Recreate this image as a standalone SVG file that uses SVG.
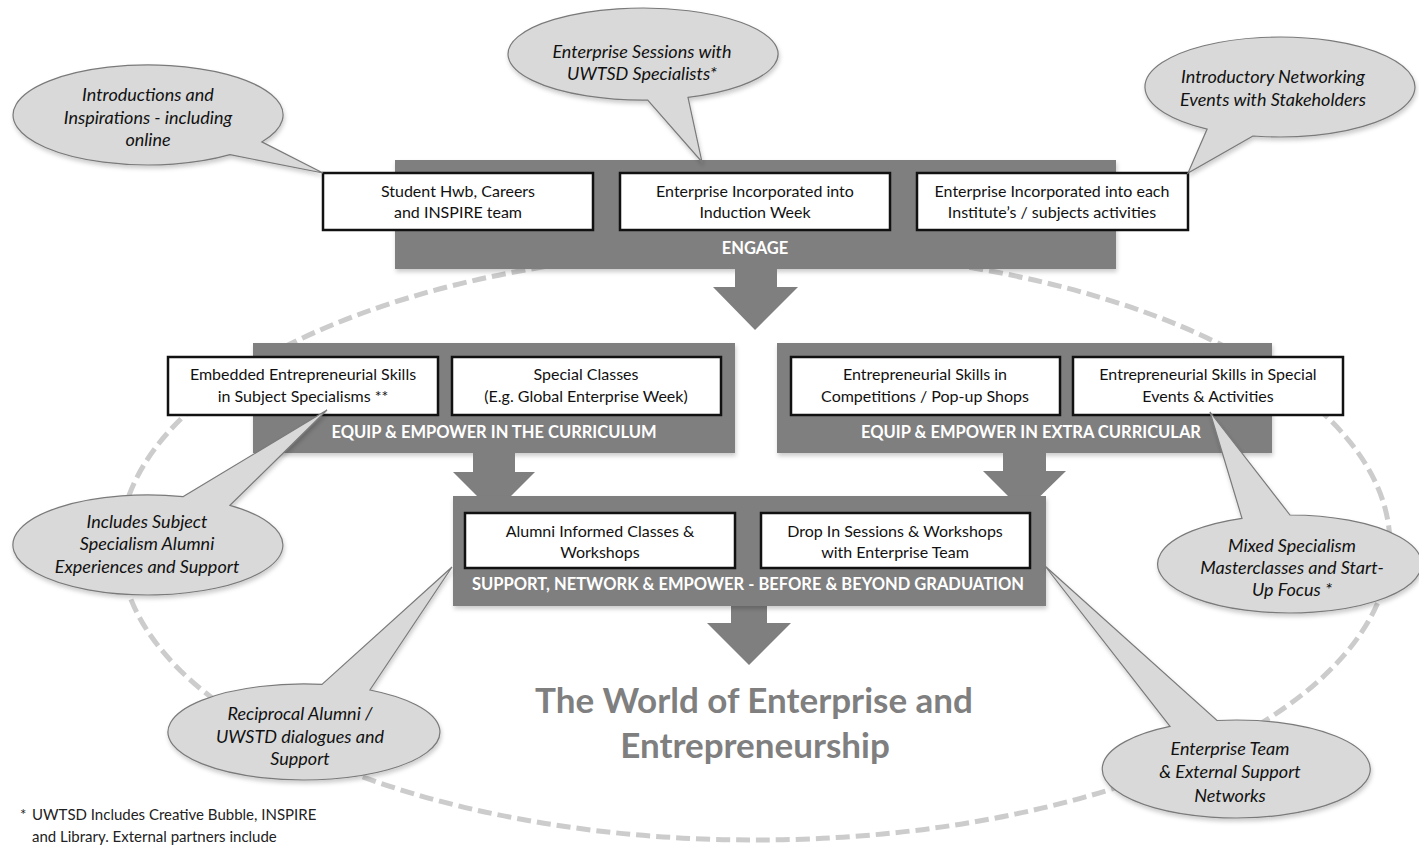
<svg xmlns="http://www.w3.org/2000/svg" width="1419" height="848" viewBox="0 0 1419 848">
<defs>
<style>
.band{fill:#7f7f7f}
.box{fill:#ffffff;stroke:#111111;stroke-width:2.5}
.bt{font-family:Lato,"Liberation Sans",sans-serif;font-size:16px;fill:#111111;text-anchor:middle}
.bl{font-family:Lato,"Liberation Sans",sans-serif;font-size:16.5px;font-weight:bold;fill:#ffffff;text-anchor:middle}
.bub{fill:#d9d9d9;stroke:#7a7a7a;stroke-width:1.2}
.bubt{font-family:Lato,"Liberation Sans",sans-serif;font-size:18px;font-style:italic;fill:#111111;text-anchor:middle}
.title{font-family:Lato,"Liberation Sans",sans-serif;font-size:35px;font-weight:bold;fill:#7f7f7f;text-anchor:middle}
.foot{font-family:Lato,"Liberation Sans",sans-serif;font-size:15px;fill:#222222}
.ring{fill:none;stroke:#cccccc;stroke-width:5;stroke-dasharray:14 6}
</style>
<filter id="sh" x="-10%" y="-10%" width="120%" height="130%">
<feDropShadow dx="1" dy="3" stdDeviation="2" flood-color="#000000" flood-opacity="0.2"/>
</filter>
</defs>
<rect width="1419" height="848" fill="#ffffff"/>

<g id="ring">
<ellipse class="ring" cx="755" cy="545" rx="635" ry="295"/>
</g>

<g id="engage">
<rect class="band" x="395" y="160" width="721" height="109" filter="url(#sh)"/>
<text class="bl" x="755" y="254">ENGAGE</text>
</g>
<g id="curriculum">
<rect class="band" x="253" y="343" width="482" height="110" filter="url(#sh)"/>
<text class="bl" x="494" y="438">EQUIP &amp; EMPOWER IN THE CURRICULUM</text>
</g>
<g id="extra">
<rect class="band" x="777" y="343" width="495" height="110" filter="url(#sh)"/>
<text class="bl" x="1031" y="438">EQUIP &amp; EMPOWER IN EXTRA CURRICULAR</text>
</g>

<g id="connectors">
<polygon class="band" points="735,268 777,268 777,287 798,287 755,330 713,287 735,287"/>
<polygon class="band" points="473,452 515,452 515,472 535,472 494,513 453,472 473,472"/>
<polygon class="band" points="1003,452 1046,452 1046,471 1066,471 1024,512 983,471 1003,471"/>
<polygon class="band" points="731,605 767,605 767,623 791,623 749,665 707,623 731,623"/>
</g>

<g id="support">
<rect class="band" x="453" y="496" width="593" height="110" filter="url(#sh)"/>
<text class="bl" x="748" y="590">SUPPORT, NETWORK &amp; EMPOWER - BEFORE &amp; BEYOND GRADUATION</text>
</g>

<g id="box-hwb">
<rect class="box" x="323" y="173" width="270" height="57"/>
<text class="bt" x="458" y="197">Student Hwb, Careers</text>
<text class="bt" x="458" y="218">and INSPIRE team</text>
</g>
<g id="box-induction">
<rect class="box" x="620" y="173" width="270" height="57"/>
<text class="bt" x="755" y="197">Enterprise Incorporated into</text>
<text class="bt" x="755" y="218">Induction Week</text>
</g>
<g id="box-institute">
<rect class="box" x="917" y="173" width="271" height="57"/>
<text class="bt" x="1052" y="197">Enterprise Incorporated into each</text>
<text class="bt" x="1052" y="218">Institute’s / subjects activities</text>
</g>
<g id="box-embedded">
<rect class="box" x="168" y="357" width="270" height="58"/>
<text class="bt" x="303" y="380">Embedded Entrepreneurial Skills</text>
<text class="bt" x="303" y="402">in Subject Specialisms **</text>
</g>
<g id="box-special">
<rect class="box" x="452" y="357" width="269" height="58"/>
<text class="bt" x="586" y="380">Special Classes</text>
<text class="bt" x="586" y="402">(E.g. Global Enterprise Week)</text>
</g>
<g id="box-competitions">
<rect class="box" x="791" y="357" width="269" height="58"/>
<text class="bt" x="925" y="380">Entrepreneurial Skills in</text>
<text class="bt" x="925" y="402">Competitions / Pop-up Shops</text>
</g>
<g id="box-events">
<rect class="box" x="1073" y="357" width="270" height="58"/>
<text class="bt" x="1208" y="380">Entrepreneurial Skills in Special</text>
<text class="bt" x="1208" y="402">Events &amp; Activities</text>
</g>
<g id="box-alumni">
<rect class="box" x="465" y="513" width="270" height="55"/>
<text class="bt" x="600" y="537">Alumni Informed Classes &amp;</text>
<text class="bt" x="600" y="558">Workshops</text>
</g>
<g id="box-dropin">
<rect class="box" x="761" y="513" width="269" height="55"/>
<text class="bt" x="895" y="537">Drop In Sessions &amp; Workshops</text>
<text class="bt" x="895" y="558">with Enterprise Team</text>
</g>

<g id="bubble-intro">
<path class="bub" filter="url(#sh)" d="M261.8 141.9 L323 173 L230 154.7 A135 50 0 1 1 261.8 141.9 Z"/>
<text class="bubt" x="148" y="101">Introductions and</text>
<text class="bubt" x="148" y="124">Inspirations - including</text>
<text class="bubt" x="148" y="146">online</text>
</g>
<g id="bubble-sessions">
<path class="bub" filter="url(#sh)" d="M688 97.4 L702 162 L647.7 100 A135 46 0 1 1 688 97.4 Z"/>
<text class="bubt" x="642" y="58">Enterprise Sessions with</text>
<text class="bubt" x="642" y="80">UWTSD Specialists*</text>
</g>
<g id="bubble-networking">
<path class="bub" filter="url(#sh)" d="M1253 136 L1188 173 L1207.1 129.1 A135 50 0 1 1 1253 136 Z"/>
<text class="bubt" x="1273" y="83">Introductory Networking</text>
<text class="bubt" x="1273" y="106">Events with Stakeholders</text>
</g>
<g id="bubble-subject">
<path class="bub" filter="url(#sh)" d="M182.9 496.7 L327 410 L230 505.3 A135 50 0 1 1 182.9 496.7 Z"/>
<text class="bubt" x="147" y="528">Includes Subject</text>
<text class="bubt" x="147" y="550">Specialism Alumni</text>
<text class="bubt" x="147" y="573">Experiences and Support</text>
</g>
<g id="bubble-mixed">
<path class="bub" filter="url(#sh)" d="M1242 518.3 L1210 412 L1290 515 A132 49 0 1 1 1242 518.3 Z"/>
<text class="bubt" x="1292" y="552">Mixed Specialism</text>
<text class="bubt" x="1292" y="574">Masterclasses and Start-</text>
<text class="bubt" x="1292" y="596">Up Focus *</text>
</g>
<g id="bubble-reciprocal">
<path class="bub" filter="url(#sh)" d="M322 684.4 L452 567 L369.9 690 A136 48 0 1 1 322 684.4 Z"/>
<text class="bubt" x="300" y="720">Reciprocal Alumni /</text>
<text class="bubt" x="300" y="743">UWSTD dialogues and</text>
<text class="bubt" x="300" y="765">Support</text>
</g>
<g id="bubble-team">
<path class="bub" filter="url(#sh)" d="M1170 726.4 L1045 566 L1217 720.5 A134 49 0 1 1 1170 726.4 Z"/>
<text class="bubt" x="1230" y="755">Enterprise Team</text>
<text class="bubt" x="1230" y="778">&amp; External Support</text>
<text class="bubt" x="1230" y="802">Networks</text>
</g>

<g id="title">
<text class="title" x="754" y="713">The World of Enterprise and</text>
<text class="title" x="755" y="758">Entrepreneurship</text>
</g>

<g id="footnote">
<text class="foot" x="20" y="820">*</text>
<text class="foot" x="32" y="820">UWTSD Includes Creative Bubble, INSPIRE</text>
<text class="foot" x="32" y="842">and Library. External partners include</text>
</g>
</svg>
